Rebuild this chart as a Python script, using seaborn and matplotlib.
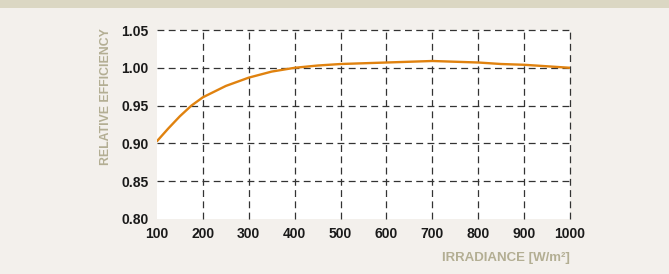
import numpy as np
import pandas as pd
import seaborn as sns
import matplotlib.pyplot as plt
from matplotlib.patches import Rectangle

# Curve
irradiance = [100, 125, 150, 175, 200, 250, 300, 350, 400, 450, 500, 550, 600,
              650, 700, 750, 800, 850, 900, 950, 1000]
efficiency = [0.903, 0.920, 0.936, 0.950, 0.961, 0.976, 0.987, 0.995, 1.000,
              1.003, 1.005, 1.006, 1.007, 1.008, 1.009, 1.008, 1.007, 1.005,
              1.004, 1.002, 1.000]
x_ticks = [100, 200, 300, 400, 500, 600, 700, 800, 900, 1000]
y_ticks = [0.80, 0.85, 0.90, 0.95, 1.00, 1.05]

df = pd.DataFrame({'irradiance': irradiance, 'efficiency': efficiency})

sns.set_style('white')
plt.rcParams['font.family'] = ['Liberation Sans Narrow', 'Liberation Sans', 'DejaVu Sans']

bg = '#f3f0ec'
label_col = '#b3ae93'

fig = plt.figure(figsize=(6.69, 2.74), dpi=100, facecolor=bg)
# top band
fig.patches.append(Rectangle((0, 1 - 8 / 274), 1, 8 / 274, transform=fig.transFigure,
                             facecolor='#dbd7c3', edgecolor='none'))

ax = fig.add_axes([157 / 669, 1 - 219 / 274, 413 / 669, 189 / 274])
ax.set_facecolor('white')

sns.lineplot(data=df, x='irradiance', y='efficiency', ax=ax, color='#e0820f',
             linewidth=1.7, zorder=3)

ax.set_xlim(100, 1000)
ax.set_ylim(0.80, 1.05)
ax.set_xticks(x_ticks)
ax.set_yticks(y_ticks)
ax.set_xticklabels([str(t) for t in x_ticks], fontsize=10, fontweight='bold', color='#1a1a1a')
ax.set_yticklabels([f'{t:.2f}' for t in y_ticks], fontsize=10, fontweight='bold', color='#1a1a1a')
ax.tick_params(length=0, pad=6)

for t in x_ticks[1:]:
    ax.axvline(t, color='#333333', linewidth=0.9, linestyle=(0, (5.5, 3.5)), zorder=1,
               clip_on=False)
for t in y_ticks[1:]:
    ax.axhline(t, color='#333333', linewidth=0.9, linestyle=(0, (5.5, 3.5)), zorder=1,
               clip_on=False)

for s in ax.spines.values():
    s.set_visible(False)

ax.set_xlabel('')
ax.set_ylabel('')
fig.text(570 / 669, 1 - 258 / 274, 'IRRADIANCE [W/m²]', ha='right', va='center',
         fontsize=9.5, fontweight='bold', color=label_col)
fig.text(106 / 669, 1 - 97 / 274, 'RELATIVE EFFICIENCY', ha='center', va='center',
         rotation=90, fontsize=8.8, fontweight='bold', color=label_col)

fig.savefig('out.png', dpi=100, facecolor=bg)
